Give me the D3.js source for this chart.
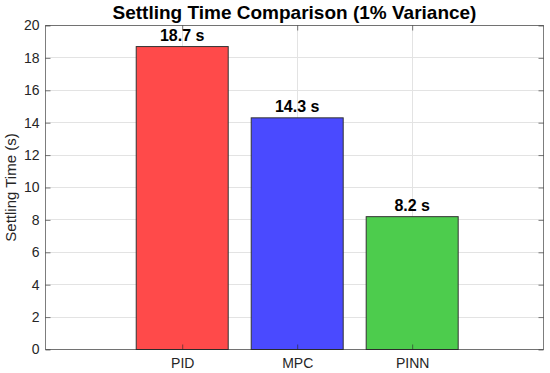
<!DOCTYPE html>
<html><head><meta charset="utf-8">
<script src="https://cdn.jsdelivr.net/npm/d3@7"></script>
<style>body{margin:0;background:#fff}svg{display:block}text{font-family:"Liberation Sans",Arial,sans-serif}</style>
</head><body>
<svg id="c" width="550" height="373"></svg>
<script>
const categories = ["PID", "MPC", "PINN"];
const values = [18.7, 14.3, 8.2];
const barColors = ["#ff4a4a", "#4a4aff", "#4dcc4d"];
const yTicks = [0, 2, 4, 6, 8, 10, 12, 14, 16, 18, 20];
const title = "Settling Time Comparison (1% Variance)";
const yLabel = "Settling Time (s)";

const svg = d3.select("#c");
const L = 45.5, R = 543.5, T = 25.5, B = 349.5;
const x = d3.scaleLinear().domain([-0.189, 4.142]).range([L, R]);
const y = d3.scaleLinear().domain([0, 20]).range([B, T]);
const idx = categories.map((d, i) => i + 1);

// grid
svg.append("g").selectAll("line.gy").data(yTicks).join("line")
  .attr("x1", L).attr("x2", R).attr("y1", d => Math.round(y(d) - 0.5) + 0.5).attr("y2", d => Math.round(y(d) - 0.5) + 0.5)
  .attr("stroke", "#e3e3e3").attr("stroke-width", 1);
svg.append("g").selectAll("line.gx").data(idx).join("line")
  .attr("y1", T).attr("y2", B).attr("x1", d => Math.round(x(d) - 0.5) + 0.5).attr("x2", d => Math.round(x(d) - 0.5) + 0.5)
  .attr("stroke", "#e3e3e3").attr("stroke-width", 1);

// bars
const bw = x(1.4) - x(0.6);
svg.append("g").selectAll("rect").data(values).join("rect")
  .attr("x", (d, i) => x(i + 1) - bw / 2)
  .attr("y", d => y(d))
  .attr("width", bw)
  .attr("height", d => y(0) - y(d))
  .attr("fill", (d, i) => barColors[i])
  .attr("stroke", "#333").attr("stroke-width", 1);

// value labels
svg.append("g").selectAll("text").data(values).join("text")
  .attr("x", (d, i) => x(i + 1))
  .attr("y", d => y(d) - 6)
  .attr("text-anchor", "middle")
  .attr("font-size", 16).attr("font-weight", "bold").attr("fill", "#000")
  .text(d => d.toFixed(1) + " s");

// axes box and ticks
const ax = svg.append("g");
ax.append("rect").attr("x", L).attr("y", T).attr("width", R - L).attr("height", B - T)
  .attr("fill", "none").attr("stroke", "#262626").attr("stroke-opacity", 0.6).attr("stroke-width", 1);
const yAxis = d3.axisLeft(y).tickValues(yTicks).tickSize(-5).tickPadding(6);
const ga = svg.append("g").attr("transform", `translate(${L},0)`).call(yAxis);
ga.select(".domain").remove();
ga.selectAll("line").attr("stroke", "#262626").attr("stroke-opacity", 0.6);
ga.selectAll("text").attr("font-size", 14).attr("fill", "#262626").attr("font-family", "Liberation Sans, Arial, sans-serif");
const gr = svg.append("g").attr("transform", `translate(${R},0)`).call(d3.axisRight(y).tickValues(yTicks).tickSize(-5).tickFormat(""));
gr.select(".domain").remove();
gr.selectAll("line").attr("stroke", "#262626").attr("stroke-opacity", 0.6);

const xAxis = d3.axisBottom(x).tickValues(idx).tickFormat((d, i) => categories[i]).tickSize(-5).tickPadding(9);
const gx = svg.append("g").attr("transform", `translate(0,${B})`).call(xAxis);
gx.select(".domain").remove();
gx.selectAll("line").attr("stroke", "#262626").attr("stroke-opacity", 0.6);
gx.selectAll("text").attr("font-size", 14).attr("fill", "#262626").attr("font-family", "Liberation Sans, Arial, sans-serif");
const gt = svg.append("g").attr("transform", `translate(0,${T})`).call(d3.axisTop(x).tickValues(idx).tickSize(-5).tickFormat(""));
gt.select(".domain").remove();
gt.selectAll("line").attr("stroke", "#262626").attr("stroke-opacity", 0.6);

// title
svg.append("text").attr("x", (L + R) / 2).attr("y", 19).attr("text-anchor", "middle")
  .attr("font-size", 19).attr("font-weight", "bold").attr("fill", "#000").text(title);
// y label
svg.append("text").attr("transform", `translate(16,${(T + B) / 2}) rotate(-90)`).attr("text-anchor", "middle")
  .attr("font-size", 15).attr("fill", "#262626").text(yLabel);
</script>
</body></html>
